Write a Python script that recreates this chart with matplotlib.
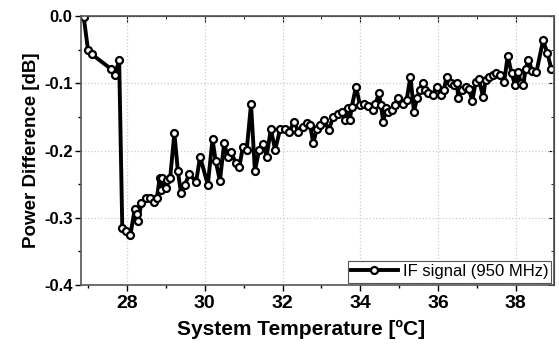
import matplotlib.pyplot as plt
from matplotlib.ticker import MultipleLocator, FormatStrFormatter

# System temperature [ºC] and power difference [dB]
temp = [26.89, 27.00, 27.10, 27.60, 27.69, 27.80, 27.88, 27.98, 28.09, 28.20,
        28.25, 28.29, 28.37, 28.48, 28.59, 28.70, 28.77, 28.84, 28.88, 28.91,
        29.00, 29.02, 29.11, 29.22, 29.31, 29.39, 29.49, 29.60, 29.78, 29.88,
        30.08, 30.20, 30.28, 30.39, 30.50, 30.59, 30.68, 30.80, 30.89, 30.98,
        31.08, 31.19, 31.29, 31.40, 31.51, 31.59, 31.70, 31.81, 31.94, 32.06,
        32.17, 32.30, 32.41, 32.52, 32.62, 32.71, 32.79, 32.88, 32.96, 33.07,
        33.19, 33.30, 33.42, 33.52, 33.61, 33.68, 33.73, 33.78, 33.89, 33.99,
        34.10, 34.21, 34.33, 34.39, 34.48, 34.53, 34.59, 34.66, 34.72, 34.81,
        34.89, 34.98, 35.09, 35.19, 35.29, 35.38, 35.46, 35.53, 35.60, 35.66,
        35.75, 35.86, 35.96, 36.07, 36.15, 36.22, 36.32, 36.41, 36.48, 36.52,
        36.61, 36.71, 36.79, 36.88, 36.97, 37.05, 37.16, 37.22, 37.31, 37.42,
        37.50, 37.59, 37.70, 37.79, 37.89, 37.98, 38.06, 38.13, 38.19, 38.25,
        38.32, 38.42, 38.53, 38.70, 38.81, 38.91]
power = [-0.002, -0.051, -0.057, -0.079, -0.087, -0.066, -0.315, -0.319, -0.325, -0.287,
         -0.294, -0.304, -0.278, -0.271, -0.271, -0.276, -0.271, -0.241, -0.259, -0.241,
         -0.256, -0.244, -0.241, -0.174, -0.231, -0.263, -0.251, -0.235, -0.246, -0.209,
         -0.251, -0.183, -0.215, -0.245, -0.189, -0.209, -0.202, -0.219, -0.225, -0.194,
         -0.199, -0.131, -0.230, -0.199, -0.190, -0.209, -0.168, -0.199, -0.168, -0.168,
         -0.172, -0.157, -0.172, -0.165, -0.159, -0.162, -0.189, -0.168, -0.162, -0.154,
         -0.170, -0.150, -0.145, -0.142, -0.155, -0.137, -0.155, -0.135, -0.105, -0.132,
         -0.130, -0.134, -0.140, -0.130, -0.115, -0.132, -0.157, -0.137, -0.142, -0.140,
         -0.132, -0.122, -0.130, -0.125, -0.090, -0.142, -0.122, -0.110, -0.100, -0.110,
         -0.115, -0.117, -0.105, -0.117, -0.110, -0.090, -0.100, -0.103, -0.099, -0.122,
         -0.110, -0.105, -0.108, -0.126, -0.098, -0.094, -0.121, -0.095, -0.091, -0.088,
         -0.085, -0.088, -0.098, -0.059, -0.085, -0.103, -0.083, -0.100, -0.103, -0.079,
         -0.065, -0.081, -0.083, -0.036, -0.055, -0.078]

plt.rcParams['font.family'] = ['Liberation Sans', 'DejaVu Sans']

fig = plt.figure(figsize=(5.59, 3.49), dpi=100)
ax = fig.add_axes([0.145, 0.183, 0.846, 0.771])

ax.plot(temp, power, color='black', linewidth=2.8, marker='o', markersize=5,
        markerfacecolor='white', markeredgecolor='black', markeredgewidth=1.6,
        label='IF signal (950 MHz)')

ax.set_xlim(26.82, 38.98)
ax.set_ylim(-0.4, 0.0)
ax.xaxis.set_major_locator(MultipleLocator(2))
ax.xaxis.set_minor_locator(MultipleLocator(1))
ax.yaxis.set_major_locator(MultipleLocator(0.1))
ax.yaxis.set_minor_locator(MultipleLocator(0.05))
ax.yaxis.set_major_formatter(FormatStrFormatter('%.1f'))

ax.grid(True, which='major', color='#cccccc', linestyle=':', linewidth=0.9)
ax.tick_params(which='both', direction='out', top=False, right=False, width=1.0)
ax.tick_params(which='major', length=4)
ax.tick_params(which='minor', length=2.5)
ax.tick_params(axis='x', labelsize=14, pad=3)
ax.tick_params(axis='y', labelsize=12, pad=2)
for lab in ax.get_xticklabels() + ax.get_yticklabels():
    lab.set_fontweight('bold')

# inward ticks on top and right, like the original
axt = ax.secondary_xaxis('top')
axt.xaxis.set_major_locator(MultipleLocator(2))
axt.xaxis.set_minor_locator(MultipleLocator(1))
axt.tick_params(which='both', direction='in', labeltop=False)
axt.tick_params(which='major', length=4)
axt.tick_params(which='minor', length=2.5)
axr = ax.secondary_yaxis('right')
axr.yaxis.set_major_locator(MultipleLocator(0.1))
axr.yaxis.set_minor_locator(MultipleLocator(0.05))
axr.tick_params(which='both', direction='in', labelright=False)
axr.tick_params(which='major', length=4)
axr.tick_params(which='minor', length=2.5)

for s in list(ax.spines.values()):
    s.set_color('#555555')
    s.set_linewidth(1.2)

ax.set_xlabel('System Temperature [ºC]', fontsize=15, fontweight='bold', labelpad=2)
ax.xaxis.set_label_coords(0.465, -0.13)
ax.set_ylabel('Power Difference [dB]', fontsize=13.5, fontweight='bold', labelpad=3)

leg = ax.legend(loc='lower right', fontsize=12, frameon=True, fancybox=False,
                edgecolor='#555555', framealpha=1, borderpad=0.2,
                handlelength=2.8, handletextpad=0.3, borderaxespad=0.15)
leg.get_frame().set_linewidth(0.8)

fig.savefig('out.png', dpi=100)
